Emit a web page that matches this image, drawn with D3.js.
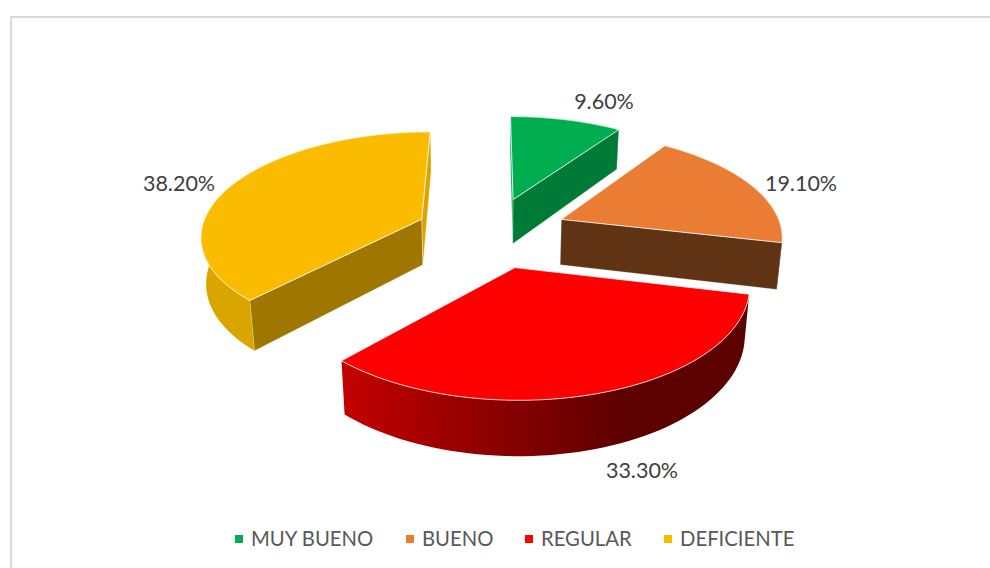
<!DOCTYPE html>
<html>
<head>
<meta charset="utf-8">
<script src="https://cdn.jsdelivr.net/npm/d3@7/dist/d3.min.js"></script>
<style>
  html, body { margin: 0; padding: 0; background: #fff; }
  svg { display: block; }
  text { font-family: Lato, "Open Sans", sans-serif; }
</style>
</head>
<body>
<svg width="990" height="568"></svg>
<script>
var categories = ["MUY BUENO", "BUENO", "REGULAR", "DEFICIENTE"];
var values = [9.6, 19.1, 33.3, 38.2];
var valueLabels = ["9.60%", "19.10%", "33.30%", "38.20%"];

var topColors = ["#00ae4f", "#ea7d33", "#ff0000", "#fbbc00"];
var wallColors = ["#007a37", "#5f3314", "#7a0000", "#9e7600"];
var rimLeft = ["#00a048", "#8a4a20", "#c40000", "#dba500"];
var rimRight = ["#00a048", "#5f3314", "#5c0000", "#d9a600"];

var svg = d3.select("svg");

// frame of the chart area, open at the right and bottom of the picture
svg.append("path")
    .attr("d", d3.line()([[11, 568], [11, 17], [990, 17]]))
    .attr("fill", "none")
    .attr("stroke", "#d9d9d9")
    .attr("stroke-width", 2);

// 3d view of the unit disc: X to the right, Y towards the viewer, z downwards
var view = { cx: 491.5, cy: 232, a: 221, b: 103, h: 47, heightGain: 0.04, persp: 0.14, shrink: 0.018 };
var explode = 0.345;

function project(X, Y, z) {
    var s = 1 / (1 - view.persp * Y + view.shrink * z);
    var drop = view.h * z * (1 + view.heightGain * Y);
    return [view.cx + view.a * X * s, view.cy + (view.b * Y + drop) * s];
}

var slices = d3.pie().sort(null)(values);

var defs = svg.append("defs");
var line = d3.line();
var chart = svg.append("g");

slices.forEach(function (d, i) {
    var mid = (d.startAngle + d.endAngle) / 2;
    var ox = explode * Math.sin(mid);
    var oy = -explode * Math.cos(mid);

    function rimPoint(t, z) {
        return project(ox + Math.sin(t), oy - Math.cos(t), z);
    }

    var steps = d3.range(0, 61).map(function (k) {
        return d.startAngle + (d.endAngle - d.startAngle) * k / 60;
    });
    var topArc = steps.map(function (t) { return rimPoint(t, 0); });
    var bottomArc = steps.map(function (t) { return rimPoint(t, 1); });
    var tipTop = project(ox, oy, 0);
    var tipBottom = project(ox, oy, 1);

    var gradId = "rim" + i;
    var xs = d3.extent(topArc, function (p) { return p[0]; });
    var grad = defs.append("linearGradient")
        .attr("id", gradId)
        .attr("gradientUnits", "userSpaceOnUse")
        .attr("x1", xs[0]).attr("x2", xs[0] + (xs[1] - xs[0]) * 0.7)
        .attr("y1", 0).attr("y2", 0);
    grad.append("stop").attr("offset", 0).attr("stop-color", rimLeft[i]);
    grad.append("stop").attr("offset", 1).attr("stop-color", rimRight[i]);

    var g = chart.append("g");

    g.append("path")
        .attr("d", line(topArc.concat(bottomArc.slice().reverse())) + "Z")
        .attr("fill", "url(#" + gradId + ")");

    // cut faces, only when they turn to the viewer; the wider one is the dark one
    var startWall = [tipTop, topArc[0], bottomArc[0], tipBottom];
    var endWall = [tipTop, tipBottom, bottomArc[60], topArc[60]];
    var walls = [startWall, endWall];
    var widest = d3.max(walls, function (w) { return d3.polygonArea(w); });
    walls.forEach(function (wall) {
        var size = d3.polygonArea(wall);
        if (size <= 0) return;
        g.append("path")
            .attr("d", line(wall) + "Z")
            .attr("fill", size === widest ? wallColors[i] : rimLeft[i])
            .attr("stroke", "#fff")
            .attr("stroke-opacity", 0.5)
            .attr("stroke-width", 0.6);
    });

    g.append("path")
        .attr("d", line([tipTop].concat(topArc)) + "Z")
        .attr("fill", topColors[i])
        .attr("stroke", "#fff")
        .attr("stroke-opacity", 0.75)
        .attr("stroke-width", 1)
        .attr("stroke-linejoin", "round");
});

// value labels
var labelX = [604, 801, 642, 179];
var labelY = [101, 183, 470, 183];
svg.append("g").selectAll("text")
    .data(valueLabels)
    .join("text")
    .attr("x", function (d, i) { return labelX[i]; })
    .attr("y", function (d, i) { return labelY[i]; })
    .attr("dy", "0.35em")
    .attr("text-anchor", "middle")
    .attr("font-size", 21.5)
    .attr("fill", "#404040")
    .text(function (d) { return d; });

// legend
var legendX = [251, 422, 541, 680];
var legend = svg.append("g").selectAll("g")
    .data(categories)
    .join("g")
    .attr("transform", function (d, i) { return "translate(" + legendX[i] + ",539)"; });
legend.append("rect")
    .attr("x", -16).attr("y", -4)
    .attr("width", 8).attr("height", 8)
    .attr("fill", function (d, i) { return topColors[i]; });
legend.append("text")
    .attr("dy", "0.35em")
    .attr("font-size", 20.3)
    .attr("fill", "#595959")
    .text(function (d) { return d; });
</script>
</body>
</html>
